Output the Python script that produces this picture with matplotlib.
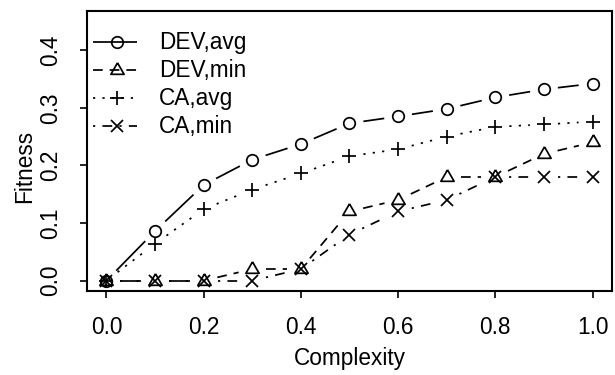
import matplotlib
matplotlib.use("Agg")
import matplotlib.pyplot as plt
import numpy as np

# values
complexity = [0.0, 0.1, 0.2, 0.3, 0.4, 0.5, 0.6, 0.7, 0.8, 0.9, 1.0]
dev_avg = [0.0, 0.086, 0.166, 0.210, 0.237, 0.273, 0.285, 0.298, 0.318, 0.332, 0.342]
dev_min = [0.0, 0.0, 0.0, 0.02, 0.02, 0.12, 0.14, 0.18, 0.18, 0.22, 0.24]
ca_avg = [0.0, 0.064, 0.124, 0.158, 0.186, 0.216, 0.228, 0.250, 0.267, 0.271, 0.276]
ca_min = [0.0, 0.0, 0.0, 0.0, 0.02, 0.08, 0.12, 0.14, 0.18, 0.18, 0.18]
labels = ["DEV,avg", "DEV,min", "CA,avg", "CA,min"]
x_ticks = [0.0, 0.2, 0.4, 0.6, 0.8, 1.0]
y_ticks = [0.0, 0.1, 0.2, 0.3, 0.4]

plt.rcParams['font.family'] = ['Liberation Sans', 'DejaVu Sans']
plt.rcParams['font.size'] = 16.3
plt.rcParams['lines.scale_dashes'] = False

# equilateral triangle like R's pch=2
tri = [(0, 1), (-0.866, -0.5), (0.866, -0.5), (0, 1)]

styles = [
    dict(marker='o', ms=8.3, ls='-'),
    dict(marker=tri, ms=11, ls=(0, (7, 5))),
    dict(marker='+', ms=10.5, ls=(0, (1.6, 5.2))),
    dict(marker='x', ms=8, ls=(0, (1.6, 5.2, 7, 5.2))),
]
series = [dev_avg, dev_min, ca_avg, ca_min]

fig = plt.figure(figsize=(6.15, 3.75), dpi=100)
ax = fig.add_axes([87 / 615, 1 - 291 / 375, 525 / 615, 280 / 375])
ax.set_xlim(-0.04, 1.04)
ax.set_ylim(-0.018, 0.468)

lw = 1.25
gap = 14.0  # pixels cut away around each point (R type="b")


def type_b(xs, ys, ls, marker, ms):
    pts = ax.transData.transform(np.column_stack([xs, ys]))
    inv = ax.transData.inverted()
    for p0, p1 in zip(pts[:-1], pts[1:]):
        d = p1 - p0
        L = np.hypot(*d)
        if L <= 2 * gap:
            continue
        u = d / L
        seg = inv.transform([p0 + u * gap, p1 - u * gap])
        ax.plot(seg[:, 0], seg[:, 1], color='black', lw=lw, ls=ls,
                solid_capstyle='butt', dash_capstyle='butt')
    ax.plot(xs, ys, ls='none', marker=marker, ms=ms, mfc='none',
            mec='black', mew=lw)


for ys, st in zip(series, styles):
    type_b(complexity, ys, st['ls'], st['marker'], st['ms'])

# legend drawn by hand, R style (no box)
row_y = [42, 70, 98, 126]
for py, st, lab in zip(row_y, styles, labels):
    ya = (291 - py) / 280
    x0, xm, x1 = (93 - 87) / 525, (117 - 87) / 525, (137 - 87) / 525
    ax.plot([x0, x1], [ya, ya], transform=ax.transAxes, color='black',
            lw=lw, ls=st['ls'], solid_capstyle='butt', dash_capstyle='butt')
    ax.plot([xm], [ya], transform=ax.transAxes, ls='none', marker=st['marker'],
            ms=st['ms'], mfc='none', mec='black', mew=lw)
    ax.text((159 - 87) / 525, ya, lab, transform=ax.transAxes,
            ha='left', va='center')

ax.set_xticks(x_ticks)
ax.set_xticklabels(["%.1f" % v for v in x_ticks])
ax.set_yticks(y_ticks)
ax.set_yticklabels(["%.1f" % v for v in y_ticks], rotation=90, va='center')
ax.tick_params(length=5, width=1.2, pad=13, direction='out')
for s in ax.spines.values():
    s.set_linewidth(1.5)

fig.text(350 / 615, 1 - 365 / 375, "Complexity", ha='center', va='baseline')
fig.text(25 / 615, 1 - 166 / 375, "Fitness", ha='center', va='center',
         rotation=90)

fig.savefig("out.png", dpi=100)
